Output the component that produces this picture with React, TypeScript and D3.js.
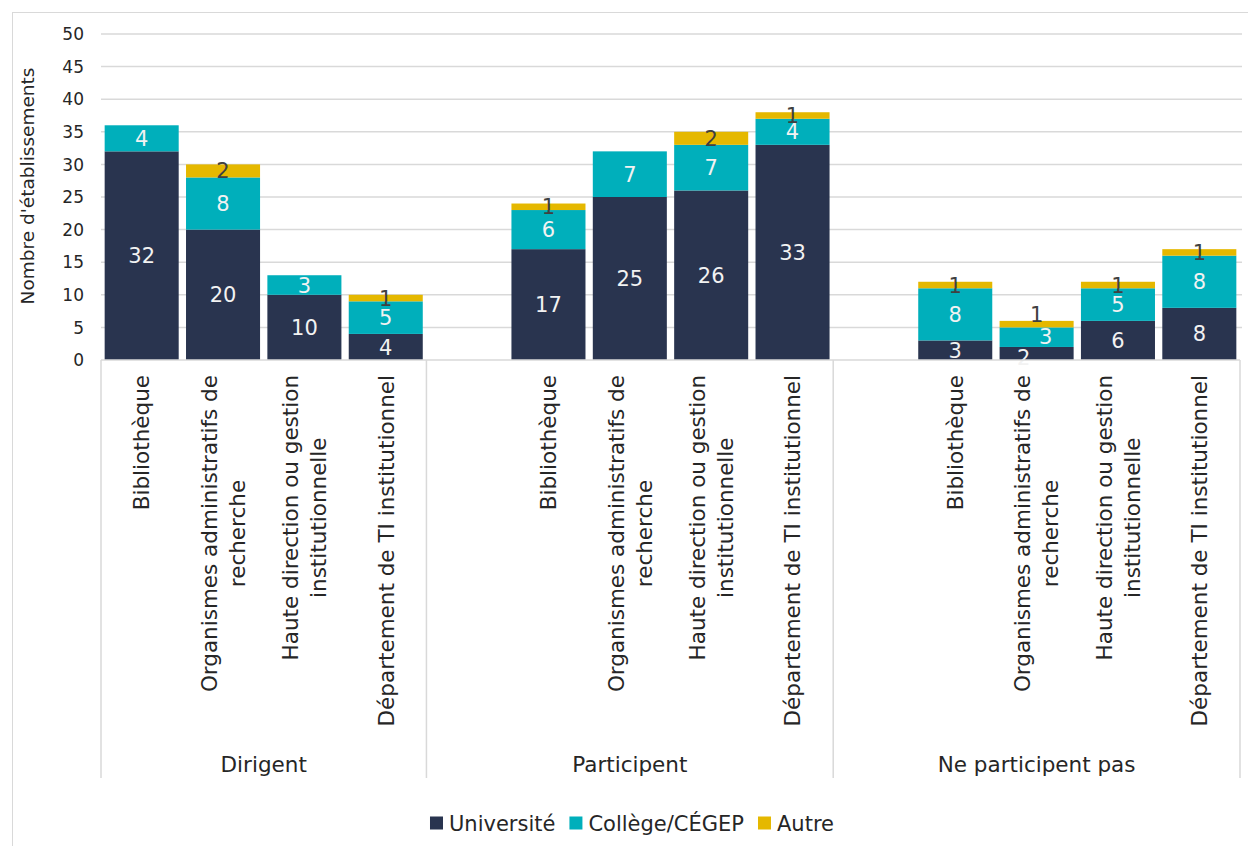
import React, { useEffect, useRef } from "react";
import * as d3 from "d3";

const groups = ["Dirigent", "Participent", "Ne participent pas"];
const categories = [
  ["Bibliothèque"],
  ["Organismes administratifs de", "recherche"],
  ["Haute direction ou gestion", "institutionnelle"],
  ["Département de TI institutionnel"],
];
const seriesNames = ["Université", "Collège/CÉGEP", "Autre"];
// values per group, per category
const universite = [
  [32, 20, 10, 4],
  [17, 25, 26, 33],
  [3, 2, 6, 8],
];
const college = [
  [4, 8, 3, 5],
  [6, 7, 7, 4],
  [8, 3, 5, 8],
];
const autre = [
  [0, 2, 0, 1],
  [1, 0, 2, 1],
  [1, 1, 1, 1],
];
const yTicks = [0, 5, 10, 15, 20, 25, 30, 35, 40, 45, 50];

const COLORS = ["#29344F", "#00AFBB", "#E5B800"];
const FONT = "'DejaVu Sans', sans-serif";

export default function App() {
  const ref = useRef<SVGSVGElement>(null);
  useEffect(() => {
    const svg = d3.select(ref.current);
    svg.selectAll("*").remove();
    const left = 101, right = 1240, top = 34, bottom = 360;
    const FS_CAT = 21.5;
    const FS_TICK = 17;
    const FS_LBL = 21;

    svg.append("rect").attr("x", 12.5).attr("y", 12.5).attr("width", 1260).attr("height", 860)
      .attr("fill", "#fff").attr("stroke", "#d9d9d9").attr("stroke-width", 1);

    const slots = d3.range(14).map(String);
    const x = d3.scaleBand().domain(slots).range([left, right]).paddingInner(0.09).paddingOuter(0.045);
    const y = d3.scaleLinear().domain([0, 50]).range([bottom, top]);
    const step = x.step();

    // gridlines
    svg.append("g").selectAll("line").data(yTicks.filter((t) => t > 0)).join("line")
      .attr("x1", left).attr("x2", right + 2)
      .attr("y1", (d) => y(d)).attr("y2", (d) => y(d))
      .attr("stroke", "#d9d9d9").attr("stroke-width", 1.5);

    // y tick labels
    svg.append("g").selectAll("text").data(yTicks).join("text")
      .attr("x", 84).attr("y", (d) => y(d)).attr("dy", "0.36em")
      .attr("text-anchor", "end").attr("font-family", FONT).attr("font-size", FS_TICK)
      .attr("fill", "#262626").text((d) => d);

    // y title
    svg.append("text").attr("transform", `translate(34,186) rotate(-90)`)
      .attr("text-anchor", "middle").attr("font-family", FONT).attr("font-size", 18.5)
      .attr("fill", "#262626").text("Nombre d'établissements");

    const idx = (g: number, c: number) => (g === 0 ? c : g === 1 ? 5 + c : 10 + c);

    // manual label nudges for crowded small segments (style, not data)
    const nudge: Record<string, [number, number]> = {
      "2-1-0": [-13, 4],
      "2-1-1": [9, -1],
      "2-1-2": [0, -10],
    };

    const barsG = svg.append("g");
    const labelsG = svg.append("g");
    groups.forEach((_, g) => {
      categories.forEach((__, c) => {
        const vals = [universite[g][c], college[g][c], autre[g][c]];
        let base = 0;
        const bx = x(String(idx(g, c)))!;
        const bw = x.bandwidth();
        vals.forEach((v, s) => {
          if (v > 0) {
            barsG.append("rect").attr("x", bx).attr("width", bw)
              .attr("y", y(base + v)).attr("height", y(base) - y(base + v))
              .attr("fill", COLORS[s]);
            const n = nudge[`${g}-${c}-${s}`] || [0, 0];
            labelsG.append("text")
              .attr("x", bx + bw / 2 + n[0]).attr("y", (y(base) + y(base + v)) / 2 + n[1])
              .attr("dy", "0.36em").attr("text-anchor", "middle")
              .attr("font-family", FONT).attr("font-size", FS_LBL)
              .attr("fill", s === 2 ? "#404040" : "#f2f2f2").text(v);
          }
          base += v;
        });
      });
    });

    // x axis line
    svg.append("line").attr("x1", left).attr("x2", right).attr("y1", bottom).attr("y2", bottom)
      .attr("stroke", "#d9d9d9").attr("stroke-width", 1.5);

    // group separators
    const bounds = [left, left + 4 * step, left + 9 * step, right];
    svg.append("g").selectAll("line").data(bounds).join("line")
      .attr("x1", (d) => d).attr("x2", (d) => d).attr("y1", bottom).attr("y2", 778)
      .attr("stroke", "#d9d9d9").attr("stroke-width", 1.5);

    // group labels
    groups.forEach((gname, g) => {
      svg.append("text").attr("x", (bounds[g] + bounds[g + 1]) / 2).attr("y", 772)
        .attr("text-anchor", "middle").attr("font-family", FONT).attr("font-size", FS_CAT)
        .attr("fill", "#262626").text(gname);
    });

    // category labels (rotated)
    groups.forEach((_, g) => {
      categories.forEach((lines, c) => {
        const cx = x(String(idx(g, c)))! + x.bandwidth() / 2;
        const lh = 28;
        const t = svg.append("g");
        const texts = lines.map((ln, i) => {
          const off = (i - (lines.length - 1) / 2) * lh;
          return t.append("text").attr("font-family", FONT).attr("font-size", FS_CAT)
            .attr("fill", "#262626").attr("text-anchor", "middle")
            .attr("dy", "0.36em").text(ln).attr("data-off", off);
        });
        const maxLen = d3.max(texts, (tx) => (tx.node() as SVGTextElement).getComputedTextLength()) || 0;
        const centerY = 375 + maxLen / 2;
        texts.forEach((tx) => {
          const off = +tx.attr("data-off");
          tx.attr("transform", `translate(${cx + off},${centerY}) rotate(-90)`);
        });
      });
    });

    // legend
    const legend = svg.append("g");
    let lx = 0;
    seriesNames.forEach((nm, s) => {
      const g = legend.append("g").attr("transform", `translate(${lx},0)`);
      g.append("rect").attr("x", 0).attr("y", -6.5).attr("width", 13).attr("height", 13).attr("fill", COLORS[s]);
      const tx = g.append("text").attr("x", 19).attr("dy", "0.36em").attr("font-family", FONT)
        .attr("font-size", 21).attr("fill", "#262626").text(nm);
      const w = (tx.node() as SVGTextElement).getComputedTextLength();
      lx += 19 + w + 14;
    });
    const totalW = lx - 14;
    legend.attr("transform", `translate(${632 - totalW / 2},823)`);
  }, []);
  return (
    <svg ref={ref} width={1248} height={846} style={{ position: "absolute", left: 0, top: 0, background: "#fff" }} />
  );
}
